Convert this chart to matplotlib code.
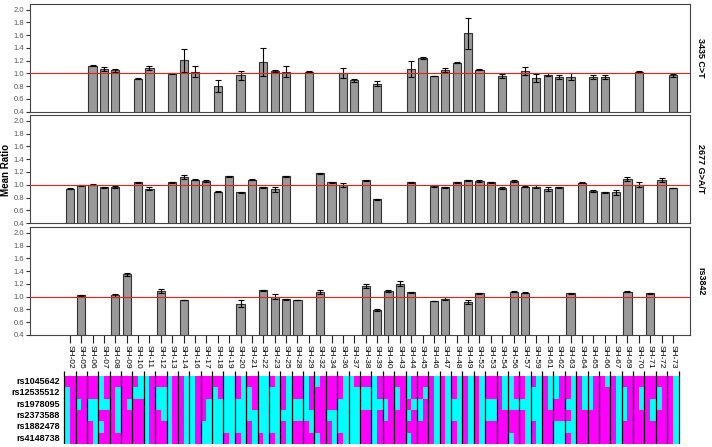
import numpy as np
import matplotlib
matplotlib.use("Agg")
import matplotlib.pyplot as plt
from matplotlib.colors import ListedColormap

plt.rcParams['font.family'] = ['Liberation Sans', 'DejaVu Sans']

samples = ["SH-02", "SH-05", "SH-06", "SH-07", "SH-08", "SH-09", "SH-10", "SH-11", "SH-12", "SH-13",
           "SH-14", "SH-16", "SH-17", "SH-18", "SH-19", "SH-20", "SH-21", "SH-22", "SH-23", "SH-25",
           "SH-28", "SH-29", "SH-32", "SH-34", "SH-36", "SH-37", "SH-38", "SH-39", "SH-40", "SH-43",
           "SH-44", "SH-45", "SH-46", "SH-47", "SH-48", "SH-49", "SH-52", "SH-53", "SH-54", "SH-56",
           "SH-57", "SH-59", "SH-61", "SH-62", "SH-63", "SH-64", "SH-65", "SH-66", "SH-67", "SH-69",
           "SH-70", "SH-71", "SH-72", "SH-73"]

# 3435 C>T
c3435_names = ["SH-06", "SH-07", "SH-08", "SH-10", "SH-11", "SH-13", "SH-14", "SH-16", "SH-18", "SH-20",
               "SH-22", "SH-23", "SH-25", "SH-29", "SH-36", "SH-37", "SH-39", "SH-44", "SH-45", "SH-46",
               "SH-47", "SH-48", "SH-49", "SH-52", "SH-54", "SH-57", "SH-59", "SH-61", "SH-62", "SH-63",
               "SH-65", "SH-66", "SH-70", "SH-73"]
c3435_mean = [1.12, 1.07, 1.05, 0.92, 1.09, 1.00, 1.21, 1.03, 0.80, 0.97,
              1.18, 1.04, 1.03, 1.03, 1.01, 0.89, 0.84, 1.07, 1.24, 0.96,
              1.06, 1.17, 1.63, 1.06, 0.96, 1.04, 0.93, 0.98, 0.95, 0.95,
              0.95, 0.94, 1.03, 0.97]
c3435_err = [0.005, 0.03, 0.02, 0.01, 0.03, 0.01, 0.18, 0.09, 0.09, 0.07,
             0.22, 0.01, 0.08, 0.01, 0.08, 0.02, 0.04, 0.12, 0.01, 0.005,
             0.03, 0.01, 0.24, 0.01, 0.03, 0.06, 0.06, 0.02, 0.03, 0.06,
             0.03, 0.03, 0.01, 0.02]

# 2677 G>A/T
g2677_names = ["SH-02", "SH-05", "SH-06", "SH-07", "SH-08", "SH-10", "SH-11", "SH-13", "SH-14", "SH-16",
               "SH-17", "SH-18", "SH-19", "SH-20", "SH-21", "SH-22", "SH-23", "SH-25", "SH-32", "SH-34",
               "SH-36", "SH-38", "SH-39", "SH-44", "SH-46", "SH-47", "SH-48", "SH-49", "SH-52", "SH-53",
               "SH-54", "SH-56", "SH-57", "SH-59", "SH-61", "SH-62", "SH-64", "SH-65", "SH-66", "SH-67",
               "SH-69", "SH-70", "SH-72", "SH-73"]
g2677_mean = [0.94, 0.99, 1.00, 0.96, 0.97, 1.04, 0.94, 1.04, 1.12, 1.08,
              1.06, 0.89, 1.13, 0.88, 1.08, 0.96, 0.93, 1.13, 1.18, 1.04,
              1.00, 1.07, 0.77, 1.04, 0.98, 0.96, 1.04, 1.07, 1.06, 1.04,
              0.95, 1.06, 0.97, 0.97, 0.93, 0.96, 1.03, 0.90, 0.88, 0.88,
              1.09, 1.00, 1.08, 0.95]
g2677_err = [0.005, 0.005, 0.01, 0.005, 0.015, 0.01, 0.02, 0.01, 0.03, 0.01,
             0.01, 0.01, 0.005, 0.005, 0.01, 0.01, 0.04, 0.01, 0.01, 0.01,
             0.03, 0.01, 0.005, 0.01, 0.01, 0.01, 0.01, 0.01, 0.01, 0.01,
             0.01, 0.01, 0.01, 0.02, 0.03, 0.01, 0.01, 0.02, 0.01, 0.04,
             0.03, 0.04, 0.03, 0.005]

# rs3842
rs3842_names = ["SH-05", "SH-08", "SH-09", "SH-12", "SH-14", "SH-20", "SH-22", "SH-23", "SH-25", "SH-28",
                "SH-32", "SH-38", "SH-39", "SH-40", "SH-43", "SH-44", "SH-46", "SH-47", "SH-49", "SH-52",
                "SH-56", "SH-57", "SH-63", "SH-69", "SH-71"]
rs3842_mean = [1.02, 1.02, 1.35, 1.09, 0.95, 0.89, 1.10, 1.00, 0.96, 0.95,
               1.07, 1.17, 0.79, 1.09, 1.20, 1.07, 0.93, 0.97, 0.92, 1.05,
               1.08, 1.06, 1.05, 1.08, 1.05]
rs3842_err = [0.01, 0.02, 0.02, 0.03, 0.005, 0.05, 0.01, 0.04, 0.01, 0.005,
              0.03, 0.03, 0.01, 0.01, 0.04, 0.01, 0.005, 0.02, 0.03, 0.01,
              0.01, 0.01, 0.01, 0.01, 0.01]

snps = ["rs1045642", "rs12535512", "rs1978095", "rs2373588", "rs1882478", "rs4148738"]

# two haplotype columns per sample, 6 SNPs each (1 = magenta, 0 = cyan)
haplotypes = ["100000111111", "110111111111", "110011110000", "000101110111", "111111100001",
              "111111110111", "101111001111", "000000111111", "100111100011", "000000111111",
              "111111000000", "000000111111", "111100110000", "100000110000", "000001000000",
              "110001000000", "100011111000", "000001000000", "100001000000", "111011000000",
              "110011110011", "000011111001", "011110111111", "111011111000", "110001000000",
              "000000100000", "100111100111", "000000110111", "110011111111", "100111111111",
              "001010110111", "110011101111", "111111000000", "111111000000", "110011000000",
              "111111000000", "111111000000", "110011110011", "111111000111", "000110110111",
              "110111000000", "100011000000", "111111000111", "001100111100", "110101000000",
              "111111000111", "000111111111", "111111011111", "111111000000", "100011111111",
              "111111100111", "111111110011", "100111111111", "111111000000"]

panels = [("3435 C>T", c3435_names, c3435_mean, c3435_err, 0.750),
          ("2677 G>A/T", g2677_names, g2677_mean, g2677_err, 0.501),
          ("rs3842", rs3842_names, rs3842_mean, rs3842_err, 0.2506)]

fig = plt.figure(figsize=(7.12, 4.47), dpi=100)
left, width, height = 30 / 712, 660 / 712, 0.2415

for k, (label, names, mean, err, bottom) in enumerate(panels):
    ax = fig.add_axes([left, bottom, width, height])
    x = [samples.index(s) for s in names]
    ax.bar(x, mean, width=0.72, color='#999999', edgecolor='#333333', linewidth=0.8, zorder=2)
    ax.errorbar(x, mean, yerr=err, fmt='none', ecolor='black', elinewidth=0.8,
                capsize=2.4, capthick=0.8, zorder=3)
    ax.axhline(1.0, color='#f01c1c', lw=0.8, zorder=4)
    ax.set_xlim(-3.5, 54.5)
    ax.set_ylim(0.4, 2.09)
    yt = np.arange(0.4, 2.01, 0.2)
    ax.set_yticks(yt)
    ax.set_yticklabels(["%.1f" % v for v in yt], fontsize=5.5, color='#555555')
    ax.tick_params(axis='y', length=3, width=0.8, pad=1, color='#333333')
    for sp in ax.spines.values():
        sp.set_color('#444444')
        sp.set_linewidth(0.8)
    if k < 2:
        ax.set_xticks([])
    else:
        ax.set_xticks(range(len(samples)))
        ax.set_xticklabels(samples, rotation=-90, fontsize=6, ha='center', va='top')
        ax.tick_params(axis='x', length=6, width=0.8, pad=1, color='#222222')
    fig.text(0.984, bottom + height / 2, label, rotation=-90, ha='center', va='center',
             fontweight='bold', fontsize=6.5)

fig.text(0.009, 0.62, "Mean Ratio", rotation=90, ha='center', va='center',
         fontweight='bold', fontsize=7)

# haplotype heatmap
grid = np.array([[int(h[c * 6 + r]) for h in haplotypes for c in range(2)] for r in range(6)])
axh = fig.add_axes([left, 3 / 447, width, 73 / 447])
xe = np.arange(-0.5, len(samples) - 0.5 + 0.01, 0.5)
ye = np.arange(0, 7)
axh.pcolormesh(xe, ye, grid, cmap=ListedColormap(['#00ffff', '#ff00ff']), vmin=0, vmax=1)
axh.vlines(np.arange(-0.5, len(samples)), -0.45, 6, color='black', lw=0.9)
axh.set_xlim(-3.5, 54.5)
axh.set_ylim(6, -0.45)
axh.axis('off')

for r, name in enumerate(snps):
    y = 1 - (376 + 11.33 * (r + 0.5)) / 447
    fig.text(60 / 712, y, name, ha='right', va='center', fontweight='bold', fontsize=6.5)

fig.savefig("out.png", dpi=100)
